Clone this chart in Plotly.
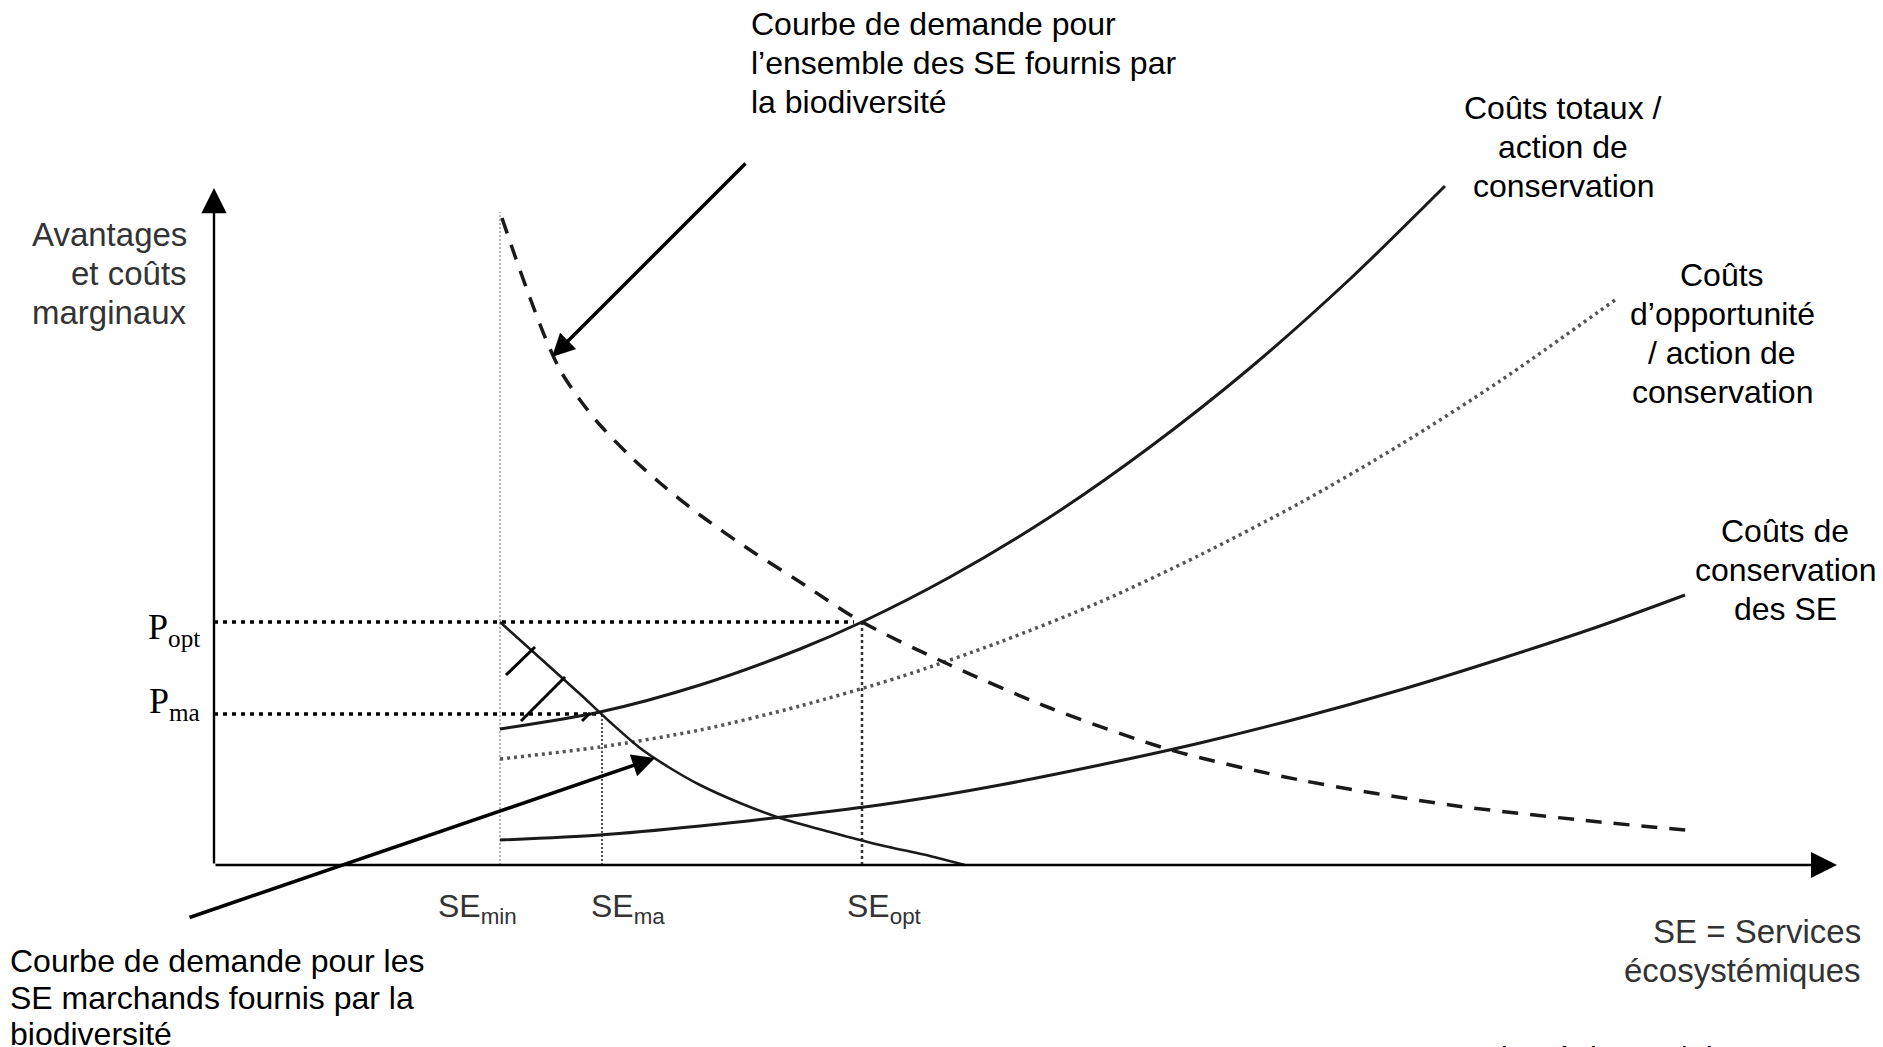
import plotly.graph_objects as go

# ---------------- data (chart units: x = quantity of SE, y = marginal value) -------------
se_names = ["min", "ma", "opt"]
se_values = [2.86, 3.88, 6.48]
p_names = ["opt", "ma"]
p_values = [2.43, 1.51]
se_min_top = 6.53

# demand curve for market ES (solid)
market_x = [2.86, 3.26, 3.66, 3.96, 4.26, 4.56, 4.86, 5.26, 5.66, 6.16, 6.66, 7.16, 7.51]
market_y = [2.43, 2.07, 1.71, 1.43, 1.17, 0.97, 0.80, 0.62, 0.47, 0.33, 0.20, 0.09, 0.00]

# demand curve for all ES (dashed)
total_demand_x = [2.88, 3.01, 3.16, 3.31, 3.46, 3.66, 3.86, 4.16, 4.46, 4.86, 5.36,
                  5.86, 6.48, 7.36, 8.36, 9.57, 10.86, 12.36, 13.86, 14.83]
total_demand_y = [6.47, 6.09, 5.67, 5.28, 4.95, 4.65, 4.40, 4.09, 3.82, 3.50, 3.15,
                  2.83, 2.43, 2.00, 1.57, 1.15, 0.85, 0.60, 0.43, 0.34]

# total costs / conservation action (solid)
total_cost_x = [2.86, 3.86, 4.86, 5.86, 6.48, 7.36, 8.36, 9.36, 10.36, 11.36, 12.31]
total_cost_y = [1.36, 1.53, 1.80, 2.16, 2.43, 2.88, 3.48, 4.18, 4.97, 5.86, 6.79]

# opportunity costs (dotted)
opp_cost_x = [2.86, 3.86, 4.86, 5.86, 6.86, 7.86, 8.86, 9.86, 10.86, 11.86, 12.86, 14.01]
opp_cost_y = [1.06, 1.18, 1.35, 1.59, 1.88, 2.23, 2.63, 3.10, 3.62, 4.20, 4.84, 5.65]

# conservation costs of ES (solid)
cons_cost_x = [2.86, 3.86, 4.86, 5.86, 6.86, 7.86, 8.86, 9.86, 10.86, 11.86, 12.86, 13.86, 14.71]
cons_cost_y = [0.25, 0.30, 0.39, 0.50, 0.63, 0.80, 1.00, 1.22, 1.47, 1.75, 2.06, 2.39, 2.70]

# hatch marks between curves
hatch_x0 = [2.92, 3.07, 3.68]
hatch_y0 = [1.90, 1.44, 1.44]
hatch_x1 = [3.21, 3.51, 3.76]
hatch_y1 = [2.18, 1.88, 1.52]

x_axis_end = 16.23
y_axis_end = 6.77

# text blocks (one entry per line)
label_all_demand = ["Courbe de demande pour", "l’ensemble des SE fournis par", "la biodiversité"]
label_total_cost = ["Coûts totaux /", "action de", "conservation"]
label_opp_cost = ["Coûts", "d’opportunité", "/ action de", "conservation"]
label_cons_cost = ["Coûts de", "conservation", "des SE"]
label_y_axis = ["Avantages", "et coûts", "marginaux"]
label_x_axis = ["SE = Services", "écosystémiques"]
label_market_demand = ["Courbe de demande pour les", "SE marchands fournis par la", "biodiversité"]
label_source = "Adapté de Pagiola 2004"

TEXT_FONT = "Liberation Sans, Arial, sans-serif"
SERIF = "Liberation Serif, Times New Roman, serif"
LINE_PITCH = 0.39

fig = go.Figure()

def line(x, y, color, width, dash="solid", shape="linear"):
    fig.add_trace(go.Scatter(x=x, y=y, mode="lines", hoverinfo="skip",
                             line=dict(color=color, width=width, dash=dash, shape=shape,
                                       smoothing=0.8 if shape == "spline" else None)))

# guide lines
line([se_values[0], se_values[0]], [0, se_min_top], "#a0a0a0", 1.5, "2px,2px")
line([se_values[1], se_values[1]], [0, p_values[1]], "#555555", 2, "2px,2px")
line([se_values[2], se_values[2]], [0, p_values[0]], "#333333", 2.5, "3px,3px")
line([0, se_values[2] - 0.08], [p_values[0], p_values[0]], "#000000", 3.5, "4px,5px")
line([0, se_values[1]], [p_values[1], p_values[1]], "#000000", 3.5, "4px,5px")

# curves
line(opp_cost_x, opp_cost_y, "#555555", 3.5, "3px,4px", "spline")
line(cons_cost_x, cons_cost_y, "#1a1a1a", 3, "solid", "spline")
line(total_cost_x, total_cost_y, "#1a1a1a", 3, "solid", "spline")
line(market_x, market_y, "#1a1a1a", 2.6, "solid", "spline")
line(total_demand_x, total_demand_y, "#1a1a1a", 3.5, "16px,12px", "spline")

for i in range(len(hatch_x0)):
    line([hatch_x0[i], hatch_x1[i]], [hatch_y0[i], hatch_y1[i]], "#000000", 3)

annotations = []

def arrow(x0, y0, x1, y1, width, size, head=2):
    annotations.append(dict(x=x1, y=y1, ax=x0, ay=y0, xref="x", yref="y", axref="x", ayref="y",
                            text="", showarrow=True, arrowhead=head, arrowsize=size,
                            arrowwidth=width, arrowcolor="#000000", standoff=0, startstandoff=0))

# axes
arrow(0, 0, x_axis_end, 0, 2.6, 2.0)
arrow(0, 0, 0, y_axis_end, 2.4, 2.1)
# pointer arrows
arrow(5.33, 7.03, 3.38, 5.08, 3.5, 1.3)
arrow(-0.26, -0.53, 4.41, 1.07, 3.5, 1.3)

def text(x, y, t, size, xanchor, yanchor="middle", color="#000000", family=TEXT_FONT):
    annotations.append(dict(x=x, y=y, xref="x", yref="y", text=t, showarrow=False,
                            xanchor=xanchor, yanchor=yanchor, align=xanchor,
                            font=dict(family=family, size=size, color=color)))

def block(x, y_first, lines, size, xanchor, color="#000000", pitch=LINE_PITCH):
    for i, t in enumerate(lines):
        text(x, y_first - i * pitch, t, size, xanchor, "middle", color)

block(5.35, 8.41, label_all_demand, 32, "left")
block(13.49, 7.57, label_total_cost, 32, "center")
block(15.08, 5.90, label_opp_cost, 32, "center")
block(15.71, 3.34, label_cons_cost, 32, "center")
block(-0.25, 6.31, label_y_axis, 33, "right", "#333333")
block(16.49, -0.66, label_x_axis, 33, "right", "#333333")
block(-2.06, -0.96, label_market_demand, 32, "left", pitch=0.365)
text(12.53, -1.73, label_source, 32, "left", "top")

se_label_x = [2.63, 4.14, 6.70]
for name, xl in zip(se_names, se_label_x):
    text(xl, -0.43, "SE<sub>" + name + "</sub>", 32, "center", "middle", "#333333")

p_label_y = [2.36, 1.62]
for name, yl in zip(p_names, p_label_y):
    text(-0.12, yl, "P<sub>" + name + "</sub>", 36, "right", "middle", "#000000", SERIF)

fig.update_layout(
    width=1883, height=1047,
    margin=dict(l=0, r=0, t=0, b=0),
    paper_bgcolor="white", plot_bgcolor="white",
    showlegend=False,
    xaxis=dict(range=[-2.14, 16.69], visible=False, fixedrange=True),
    yaxis=dict(range=[-1.82, 8.65], visible=False, fixedrange=True),
    annotations=annotations,
)

fig.write_html("out.html", config={"displayModeBar": False},
               post_script="document.body.style.margin='0';document.body.style.overflow='hidden';")
